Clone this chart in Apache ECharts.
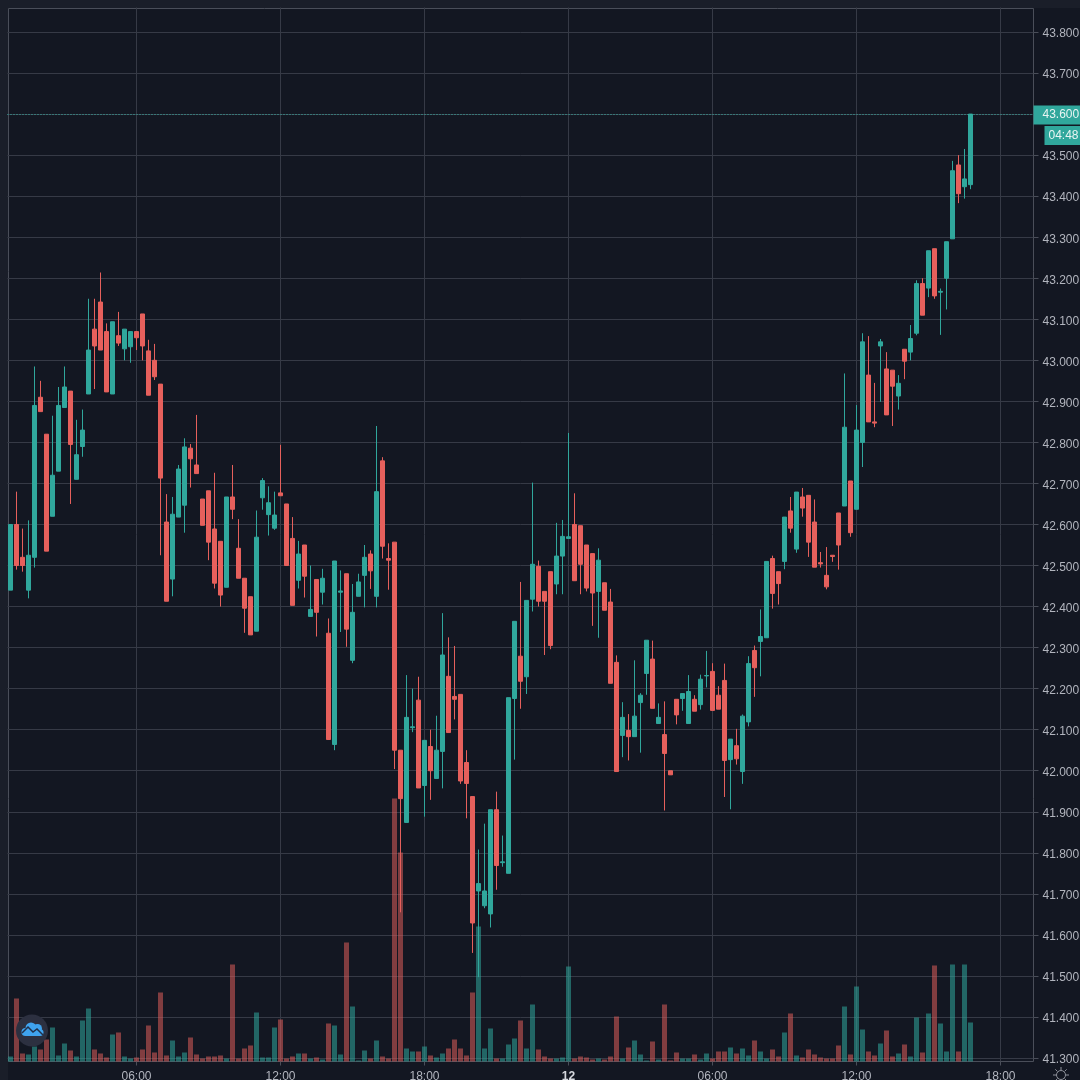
<!DOCTYPE html>
<html>
<head>
<meta charset="utf-8">
<style>html,body{margin:0;padding:0;background:#131722}#c{width:1080px;height:1080px}</style>
<script src="https://cdn.jsdelivr.net/npm/echarts@6/dist/echarts.min.js"></script>
</head>
<body>
<div id="c"></div>
<script>
const opens = [42.44,42.60,42.52,42.44,42.52,42.91,42.82,42.62,42.73,42.885,
42.925,42.71,42.79,42.918,43.076,43.142,43.07,42.918,43.06,43.028,
43.033,43.07,43.113,43.023,43.0,42.942,42.606,42.467,42.618,42.647,
42.786,42.745,42.662,42.682,42.589,42.559,42.447,42.667,42.542,42.469,
42.424,42.34,42.665,42.624,42.591,42.677,42.65,42.566,42.464,42.55,
42.376,42.466,42.435,42.335,42.064,42.435,42.48,42.269,42.425,42.476,
42.528,42.425,42.755,42.517,42.557,42.05,41.874,42.105,42.172,41.964,
42.059,41.981,42.047,42.23,42.181,42.186,42.02,41.937,41.707,41.671,
41.651,41.905,41.776,41.75,42.176,42.279,42.229,42.418,42.498,42.437,
42.485,42.455,42.523,42.566,42.6,42.597,42.55,42.529,42.437,42.458,
42.411,42.264,42.086,42.098,42.083,42.166,42.237,42.272,42.115,42.088,
42.0,42.174,42.176,42.115,42.174,42.161,42.231,42.242,42.184,42.22,
42.027,42.061,41.998,42.119,42.293,42.315,42.324,42.517,42.485,42.51,
42.633,42.54,42.667,42.671,42.606,42.507,42.476,42.525,42.628,42.645,
42.706,42.637,42.8,42.964,42.85,43.035,42.979,42.976,42.913,43.027,
43.02,43.066,43.187,43.176,43.272,43.166,43.2,43.296,43.476,43.423,43.428];
const closes = [42.60,42.50,42.50,42.525,42.89,42.875,42.535,42.72,42.89,42.935,
42.795,42.77,42.83,43.025,43.035,43.025,42.923,43.094,43.042,43.076,
43.07,43.055,43.035,42.915,42.96,42.713,42.413,42.625,42.735,42.789,
42.76,42.724,42.598,42.557,42.457,42.428,42.667,42.637,42.469,42.396,
42.331,42.569,42.707,42.653,42.623,42.67,42.5,42.403,42.528,42.474,
42.393,42.386,42.469,42.076,42.511,42.438,42.345,42.386,42.46,42.52,
42.487,42.68,42.547,42.513,42.05,41.932,42.13,42.107,41.958,42.074,
42.0,42.05,42.282,42.093,42.174,41.975,41.969,41.629,41.725,41.707,
41.905,41.769,41.778,42.178,42.364,42.218,42.415,42.503,42.413,42.413,
42.305,42.523,42.571,42.57,42.463,42.503,42.445,42.433,42.513,42.391,
42.213,41.998,42.13,42.083,42.133,42.184,42.318,42.152,42.13,42.042,
41.99,42.136,42.188,42.193,42.145,42.223,42.232,42.147,42.15,42.025,
42.077,42.029,42.133,42.261,42.251,42.327,42.51,42.432,42.456,42.618,
42.591,42.679,42.64,42.557,42.496,42.504,42.448,42.522,42.55,42.837,
42.58,42.83,43.045,42.85,42.847,43.045,42.867,42.937,42.944,42.998,
43.053,43.187,43.11,43.267,43.157,43.168,43.289,43.462,43.406,43.442,43.6];
const lows = [42.44,42.49,42.485,42.42,42.495,42.875,42.535,42.62,42.73,42.885,
42.65,42.71,42.765,42.918,42.93,43.025,42.923,42.918,43.035,43.0,
42.994,43.025,43.0,42.915,42.952,42.525,42.413,42.425,42.618,42.58,
42.69,42.724,42.598,42.513,42.444,42.40,42.447,42.613,42.469,42.336,
42.331,42.34,42.636,42.573,42.587,42.67,42.5,42.403,42.444,42.422,
42.376,42.327,42.405,42.076,42.05,42.338,42.302,42.262,42.425,42.398,
42.443,42.398,42.517,42.441,42.004,41.655,41.874,42.094,41.958,41.888,
41.929,41.981,41.957,42.093,42.125,41.968,41.884,41.556,41.497,41.665,
41.618,41.71,41.766,41.75,42.027,42.151,42.187,42.388,42.4,42.282,
42.296,42.43,42.43,42.565,42.463,42.43,42.437,42.353,42.324,42.391,
42.213,41.998,42.033,42.025,42.083,42.044,42.185,42.152,42.115,41.903,
41.99,42.113,42.146,42.115,42.145,42.149,42.203,42.147,42.15,41.936,
41.906,42.015,41.968,42.108,42.18,42.23,42.324,42.395,42.405,42.491,
42.58,42.531,42.619,42.521,42.496,42.495,42.442,42.509,42.49,42.645,
42.57,42.637,42.74,42.85,42.837,42.899,42.867,42.84,42.88,42.954,
43.0,43.061,43.11,43.154,43.15,43.062,43.124,43.296,43.383,43.394,43.417];
const highs = [42.60,42.68,42.59,42.61,42.985,42.95,42.82,42.865,42.935,42.985,
42.925,42.855,42.88,43.15,43.15,43.214,43.09,43.094,43.118,43.076,
43.07,43.07,43.113,43.05,43.04,42.942,42.674,42.667,42.745,42.81,
42.796,42.867,42.662,42.682,42.726,42.559,42.667,42.745,42.613,42.469,
42.424,42.634,42.713,42.693,42.68,42.794,42.65,42.618,42.56,42.55,
42.5,42.466,42.492,42.371,42.511,42.488,42.48,42.455,42.48,42.55,
42.537,42.84,42.764,42.554,42.557,42.05,42.233,42.2,42.229,42.074,
42.1,42.134,42.384,42.325,42.304,42.186,42.05,41.937,41.808,41.871,
41.905,41.949,41.842,42.178,42.364,42.46,42.415,42.702,42.512,42.437,
42.485,42.604,42.611,42.823,42.676,42.597,42.55,42.529,42.542,42.458,
42.443,42.281,42.167,42.138,42.269,42.189,42.318,42.317,42.164,42.169,
42.0,42.174,42.188,42.233,42.184,42.234,42.292,42.262,42.206,42.261,
42.077,42.102,42.137,42.279,42.305,42.393,42.51,42.524,42.485,42.618,
42.667,42.679,42.689,42.671,42.661,42.533,42.545,42.525,42.628,42.968,
42.706,42.891,43.066,43.059,42.945,43.052,43.02,42.976,42.964,43.027,
43.086,43.195,43.2,43.267,43.272,43.175,43.289,43.486,43.5,43.515,43.6];
const volumes = [5,63,8,7,15,12,22,34,6,18,
11,5,41,53,12,8,4,27,29,5,
3,4,12,36,9,69,6,21,5,9,
24,7,3,5,5,6,3,97,3,13,
16,49,4,4,34,42,3,5,8,8,
3,4,2,38,36,7,119,55,1,11,
3,21,5,3,263,209,13,10,10,15,
6,4,8,13,22,13,6,69,135,13,
33,3,3,17,23,41,13,57,12,5,
3,3,4,95,3,5,4,2,3,2,
5,45,3,14,21,7,1,20,2,57,
1,9,3,3,7,2,8,3,10,10,
14,8,13,6,21,10,3,12,5,29,
48,6,4,12,7,4,3,3,16,55,
7,75,32,10,6,18,31,5,8,17,
5,44,9,48,96,38,10,97,10,97,
39];
const priceMin = 41.3, priceMax = 43.8, priceStep = 0.1;
const lastPrice = 43.6, lastPriceLabel = '43.600';
const countdownLevel = 43.5515, countdownLabel = '04:48';
const dayLabel = '12';
const barCount = 171;   // 161 drawn bars plus the empty slots up to the axis edge

const UP = '#30a79c', DOWN = '#e6605c';
const UP_VOL = 'rgba(48,167,156,0.55)', DOWN_VOL = 'rgba(230,96,92,0.52)';
const GRID = '#363a46', TEXT = '#b2b5be', LINE = '#4a4e59';

// 15-minute bars, first one at 00:45
const categories = [];
for (let i = 0; i < barCount; i++) {
  const m = (45 + 15 * i) % 1440;
  categories.push(String(Math.floor(m / 60)).padStart(2, '0') + ':' + String(m % 60).padStart(2, '0'));
}
const isSixHour = (i) => i % 24 === 21;
const candles = opens.map((o, i) => [o, closes[i], lows[i], highs[i]]);
const volumeBars = volumes.map((v, i) => ({
  value: v,
  itemStyle: { color: closes[i] >= opens[i] ? UP_VOL : DOWN_VOL }
}));

// small decorations: settings icon spokes
const gearSpokes = [0, 45, 90, 135, 180, 225, 270, 315].map((deg) => {
  const a = deg * Math.PI / 180;
  return { type: 'line', silent: true, z: 50,
    shape: { x1: 1061 + 5 * Math.cos(a), y1: 1075 + 5 * Math.sin(a), x2: 1061 + 8 * Math.cos(a), y2: 1075 + 8 * Math.sin(a) },
    style: { stroke: '#8f929b', lineWidth: 1 } };
});
const cloudParts = [[25.5, 1032, 4], [31, 1028, 5.5], [37.5, 1028.5, 4.5], [40, 1032.5, 3.5]].map((c) => ({
  type: 'circle', silent: true, z: 51, shape: { cx: c[0], cy: c[1], r: c[2] }, style: { fill: '#3fa3ee' }
}));

const GL = 7.5, GW = 1026;
const chart = echarts.init(document.getElementById('c'), null, { renderer: 'canvas' });
chart.setOption({
  animation: false,
  backgroundColor: '#131722',
  textStyle: { fontFamily: '"Liberation Sans", Arial, sans-serif' },
  grid: [
    { left: GL, width: GW, top: 7.5, height: 1054, show: false, outerBoundsMode: 'none' },
    { left: GL, width: GW, top: 32, height: 1026, outerBoundsMode: 'none' }
  ],
  xAxis: [
    { type: 'category', gridIndex: 0, data: categories, boundaryGap: true,
      axisLine: { show: false },
      axisTick: { show: true, alignWithLabel: true, interval: isSixHour, length: 4, lineStyle: { color: LINE } },
      splitLine: { show: true, alignWithLabel: true, interval: isSixHour, lineStyle: { color: GRID, width: 1 } },
      axisLabel: { show: true, interval: isSixHour, margin: 9, fontSize: 12, color: TEXT,
        formatter: (v) => v === '00:00' ? '{d|' + dayLabel + '}' : v,
        rich: { d: { fontWeight: 'bold', color: '#d6d8de', fontSize: 12 } } } },
    { type: 'category', gridIndex: 1, data: categories, boundaryGap: true,
      axisLine: { show: false }, axisTick: { show: false }, axisLabel: { show: false }, splitLine: { show: false } }
  ],
  yAxis: [
    { type: 'value', gridIndex: 0, min: 0, max: 1054, show: false, splitLine: { show: false } },
    { type: 'value', gridIndex: 1, position: 'right', min: priceMin, max: priceMax, interval: priceStep,
      axisLine: { show: false },
      axisTick: { show: true, length: 5, lineStyle: { color: LINE } },
      splitLine: { show: true, lineStyle: { color: GRID, width: 1 } },
      axisLabel: { show: true, margin: 9, fontSize: 12, color: TEXT, verticalAlign: 'top', lineHeight: 4, formatter: (v) => v.toFixed(3) } }
  ],
  series: [
    { type: 'bar', name: 'Volume', xAxisIndex: 0, yAxisIndex: 0, data: volumeBars, barWidth: 5, z: 1 },
    { type: 'candlestick', name: 'Price', xAxisIndex: 1, yAxisIndex: 1, data: candles, barWidth: 4, z: 3,
      itemStyle: { color: UP, color0: DOWN, borderColor: UP, borderColor0: DOWN, borderWidth: 1 },
      markLine: {
        symbol: 'none', silent: true, animation: false,
        data: [
          { yAxis: lastPrice,
            lineStyle: { color: '#3bb5a8', type: [1, 2], width: 1 },
            label: { show: true, position: 'end', formatter: lastPriceLabel, distance: 0, offset: [0, 1], color: '#e8f5f3', fontSize: 12,
              backgroundColor: UP, padding: [5, 3, 2, 9], borderRadius: 0 } },
          { yAxis: countdownLevel,
            lineStyle: { color: 'rgba(0,0,0,0)', width: 0 },
            label: { show: true, position: 'end', formatter: countdownLabel, distance: 11, offset: [0, 1], color: '#e8f5f3', fontSize: 12,
              backgroundColor: UP, padding: [5, 3, 2, 4], borderRadius: 0 } }
        ]
      } }
  ],
  graphic: [
    { type: 'rect', silent: true, z: -1, shape: { x: 0, y: 0, width: 8, height: 1080 }, style: { fill: '#1a1e29' } },
    { type: 'rect', silent: true, z: -1, shape: { x: 0, y: 0, width: 1080, height: 8 }, style: { fill: '#1a1e29' } },
    { type: 'rect', silent: true, z: -1, shape: { x: 8.5, y: 8.5, width: 1025, height: 1053 }, style: { fill: 'none', stroke: LINE, lineWidth: 1 } },
    { type: 'circle', silent: true, z: 50, shape: { cx: 32, cy: 1030.5, r: 16 }, style: { fill: '#2c3040' } },
    ...cloudParts,
    { type: 'rect', silent: true, z: 51, shape: { x: 25.5, y: 1030, width: 15, height: 6 }, style: { fill: '#3fa3ee' } },
    { type: 'polyline', silent: true, z: 52, shape: { points: [[22, 1033], [28, 1027], [33, 1032], [37, 1029], [43, 1035]] },
      style: { fill: 'none', stroke: '#20304a', lineWidth: 1.5 } },
    { type: 'circle', silent: true, z: 50, shape: { cx: 1061, cy: 1075, r: 4.5 }, style: { fill: 'none', stroke: '#8f929b', lineWidth: 1 } },
    ...gearSpokes
  ]
});
</script>
</body>
</html>
